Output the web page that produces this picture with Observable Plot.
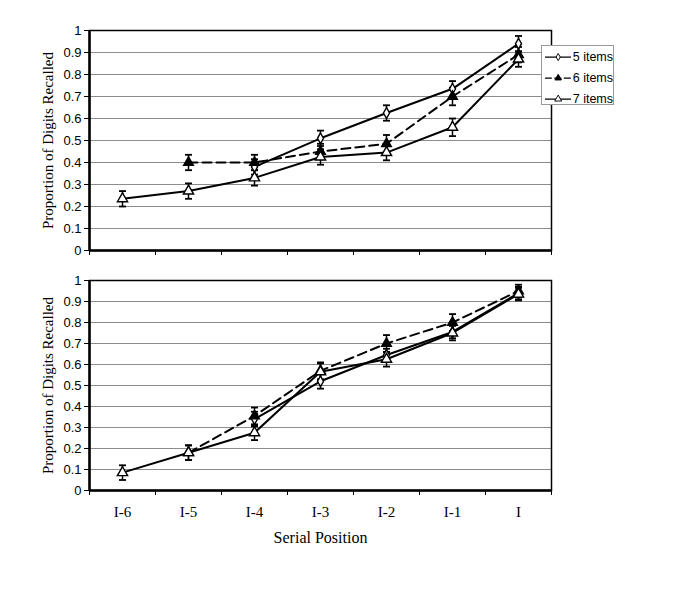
<!DOCTYPE html>
<html>
<head>
<meta charset="utf-8">
<script src="https://cdn.jsdelivr.net/npm/d3@7"></script>
<script src="https://cdn.jsdelivr.net/npm/@observablehq/plot@0.6"></script>
<style>
  body { margin: 0; background: #fff; }
  #wrap { position: relative; width: 685px; height: 610px; background: #fff; }
  #top, #bottom { position: absolute; left: 0; }
  #top { top: 0; }
  #bottom { top: 260px; }
  #wrap svg text { font-family: "Liberation Sans", Arial, sans-serif; font-size: 13px; }
  #wrap svg [aria-label="y-axis label"] text { font-family: "Liberation Serif", "Times New Roman", serif; font-size: 15px; }
  #wrap svg [aria-label="x-axis label"] text { font-family: "Liberation Serif", "Times New Roman", serif; font-size: 16px; }
  #wrap svg [aria-label="x-axis tick label"] text { font-family: "Liberation Serif", "Times New Roman", serif; font-size: 15px; }
  #legend { position: absolute; left: 541px; top: 45px; width: 73px; height: 60px; border: 1px solid #999; background: #fff; box-sizing: border-box; font-family: "Liberation Sans", Arial, sans-serif; font-size: 12.5px; overflow: hidden; }
  #legend .row { position: absolute; left: 3px; height: 14px; display: flex; align-items: center; white-space: nowrap; }
  #legend svg { display: block; margin-right: 2px; }
</style>
</head>
<body>
<div id="wrap">
  <div id="top"></div>
  <div id="bottom"></div>
  <div id="legend"></div>
</div>
<script>
// Categories (serial positions)
const positions = ["I-6", "I-5", "I-4", "I-3", "I-2", "I-1", "I"];
const seriesNames = ["5 items", "6 items", "7 items"];

// Top panel values (null = no point)
const top5 = [null, null, 0.38, 0.51, 0.625, 0.735, 0.94];
const top6 = [null, 0.40, 0.40, 0.45, 0.485, 0.70, 0.89];
const top7 = [0.235, 0.27, 0.33, 0.425, 0.445, 0.56, 0.87];
const topErr5 = [null, null, 0.035, 0.035, 0.035, 0.035, 0.035];
const topErr6 = [null, 0.035, 0.035, 0.035, 0.04, 0.04, 0.035];
const topErr7 = [0.035, 0.035, 0.035, 0.035, 0.035, 0.04, 0.035];

// Bottom panel values
const bot5 = [null, null, 0.34, 0.52, 0.645, 0.755, 0.94];
const bot6 = [null, 0.18, 0.355, 0.57, 0.70, 0.80, 0.95];
const bot7 = [0.085, 0.18, 0.275, 0.565, 0.625, 0.75, 0.935];
const botErr5 = [null, null, 0.035, 0.035, 0.03, 0.03, 0.03];
const botErr6 = [null, 0.035, 0.04, 0.04, 0.04, 0.04, 0.03];
const botErr7 = [0.035, 0.035, 0.035, 0.04, 0.035, 0.035, 0.03];

const yTicks = [0, 0.1, 0.2, 0.3, 0.4, 0.5, 0.6, 0.7, 0.8, 0.9, 1];

function rows(vals, errs, name) {
  return vals.map((v, i) => v == null ? null : {x: i + 0.5, y: v, e: errs[i], series: name}).filter(d => d);
}

const capSymbol = {
  draw(ctx, size) {
    const w = 3.5;
    ctx.moveTo(-w, 0);
    ctx.lineTo(w, 0);
  }
};

const styles = {
  "5 items": {symbol: "diamond", fill: "white", r: 3.2, dash: null},
  "6 items": {symbol: "triangle", fill: "black", r: 3.6, dash: "9,5"},
  "7 items": {symbol: "triangle", fill: "white", r: 3.8, dash: null}
};

function panel(data, opts) {
  const marks = [
    Plot.ruleY(yTicks.filter(d => d > 0), {stroke: "#8c8c8c", strokeWidth: 1}),
    Plot.axisY({ticks: yTicks, tickFormat: d => String(+d.toFixed(1)), tickSize: 5, tickPadding: 3,
      label: "Proportion of Digits Recalled", labelAnchor: "center", labelArrow: "none", labelOffset: 47}),
    Plot.axisX({ticks: d3.range(0, 8), tickFormat: () => "", tickSize: 5, label: null}),
  ];
  if (opts.xLabels) {
    marks.push(Plot.axisX({ticks: d3.range(0, 7).map(i => i + 0.5), tickSize: 0, tickPadding: 16,
      tickFormat: d => positions[Math.round(d - 0.5)],
      label: "Serial Position", labelAnchor: "center", labelArrow: "none", labelOffset: 52}));
  }
  for (const name of seriesNames) {
    const d = data.filter(r => r.series === name);
    marks.push(Plot.ruleX(d, {x: "x", y1: r => r.y - r.e, y2: r => r.y + r.e, stroke: "black", strokeWidth: 1.5}));
    marks.push(Plot.dot(d, {x: "x", y: r => r.y - r.e, symbol: capSymbol, r: 3, stroke: "black", strokeWidth: 1.8}));
    marks.push(Plot.dot(d, {x: "x", y: r => r.y + r.e, symbol: capSymbol, r: 3, stroke: "black", strokeWidth: 1.8}));
  }
  for (const name of seriesNames) {
    const s = styles[name];
    const d = data.filter(r => r.series === name);
    marks.push(Plot.line(d, {x: "x", y: "y", stroke: "black", strokeWidth: 2, strokeDasharray: s.dash}));
  }
  for (const name of seriesNames) {
    const s = styles[name];
    const d = data.filter(r => r.series === name);
    marks.push(Plot.dot(d, {x: "x", y: "y", symbol: s.symbol, r: s.r, fill: s.fill, stroke: "black", strokeWidth: 1.4}));
  }
  marks.push(Plot.frame({stroke: "black", strokeWidth: 1.5}));
  marks.push(Plot.ruleX([0], {stroke: "black", strokeWidth: 2.5}));
  marks.push(Plot.ruleY([0], {stroke: "black", strokeWidth: 2.5}));
  return Plot.plot({
    width: 685,
    height: opts.height,
    marginLeft: 89,
    marginRight: 134,
    marginTop: opts.marginTop,
    marginBottom: opts.marginBottom,
    x: {domain: [0, 7]},
    y: {domain: [0, 1]},
    marks
  });
}

const topData = [...rows(top5, topErr5, "5 items"), ...rows(top6, topErr6, "6 items"), ...rows(top7, topErr7, "7 items")];
const botData = [...rows(bot5, botErr5, "5 items"), ...rows(bot6, botErr6, "6 items"), ...rows(bot7, botErr7, "7 items")];

document.getElementById("top").appendChild(panel(topData, {height: 260, marginTop: 30, marginBottom: 10, xLabels: false}));
document.getElementById("bottom").appendChild(panel(botData, {height: 300, marginTop: 20, marginBottom: 70, xLabels: true}));

// Legend
const legend = document.getElementById("legend");
seriesNames.forEach((name, i) => {
  const s = styles[name];
  const row = document.createElement("div");
  row.className = "row";
  row.style.top = (4 + i * 21) + "px";
  const sample = Plot.plot({
    width: 38, height: 14, margin: 0,
    x: {domain: [0, 1], axis: null}, y: {domain: [0, 1], axis: null},
    marks: [
      Plot.lineY([{x: 0, y: 0.5}, {x: 1, y: 0.5}], {x: "x", y: "y", stroke: "black", strokeWidth: 2, strokeDasharray: s.dash ? "9,5" : null}),
      Plot.dot([{x: 0.5, y: 0.5}], {x: "x", y: "y", symbol: s.symbol, r: s.r, fill: s.fill, stroke: "black", strokeWidth: 1.4})
    ]
  });
  row.appendChild(sample);
  const label = document.createElement("span");
  label.textContent = name;
  row.appendChild(label);
  legend.appendChild(row);
});
</script>
</body>
</html>
